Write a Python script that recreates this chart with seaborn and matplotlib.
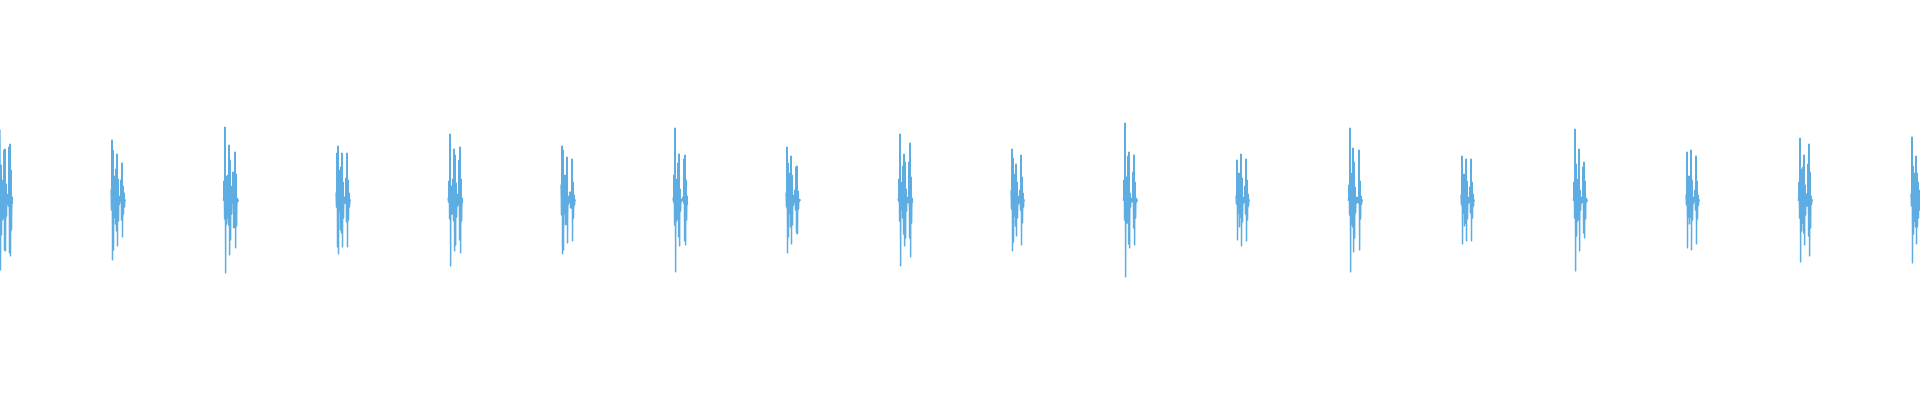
import numpy as np
import pandas as pd
import seaborn as sns
import matplotlib
matplotlib.use("Agg")
import matplotlib.pyplot as plt

# heart sound recording, one burst per beat (amplitude in a.u., envelope per sample pair)
fs = 300  # samples per second
onsets = [0.0, 0.74, 1.487, 2.24, 2.987, 3.74, 4.487, 5.24, 5.987,
          6.74, 7.487, 8.24, 8.987, 9.74, 10.487, 11.24, 11.987, 12.74]

beat_01 = [70, 35, 20, 18, 50, 51, 16, 4, 6, 53, 56, 30, 3]
beat_02 = [10, 60, 50, 17, 24, 31, 46, 21, 4, 1, 20, 37, 14, 7, 0]
beat_03 = [0, 19, 73, 24, 18, 25, 55, 40, 14, 3, 28, 27, 48, 26, 2, 0]
beat_04 = [7, 47, 54, 11, 30, 33, 47, 18, 3, 3, 22, 47, 20, 7, 0]
beat_05 = [2, 19, 66, 14, 14, 21, 51, 45, 17, 6, 4, 40, 53, 21, 2]
beat_06 = [15, 54, 50, 13, 25, 24, 43, 4, 2, 8, 8, 41, 18, 5, 0]
beat_07 = [2, 25, 72, 21, 19, 37, 46, 11, 1, 0, 3, 41, 45, 20, 4]
beat_08 = [7, 53, 37, 13, 27, 44, 25, 5, 2, 10, 33, 34, 9, 1, 0]
beat_09 = [1, 21, 66, 9, 18, 34, 46, 38, 11, 2, 3, 38, 57, 23, 2]
beat_10 = [9, 51, 42, 16, 26, 36, 18, 4, 2, 10, 45, 23, 7, 0]
beat_11 = [0, 20, 77, 23, 23, 44, 48, 7, 2, 1, 28, 45, 18, 2, 0]
beat_12 = [4, 40, 13, 27, 17, 46, 22, 3, 2, 14, 41, 20, 6, 0]
beat_13 = [0, 15, 72, 24, 27, 52, 38, 13, 3, 2, 3, 50, 19, 4, 0]
beat_14 = [5, 44, 13, 26, 23, 41, 19, 3, 2, 13, 41, 18, 6, 0]
beat_15 = [0, 18, 71, 36, 21, 19, 51, 10, 3, 2, 33, 38, 19, 2, 0]
beat_16 = [5, 48, 17, 24, 17, 50, 20, 3, 0, 10, 44, 19, 5, 0]
beat_17 = [0, 18, 62, 31, 23, 33, 45, 15, 6, 6, 36, 56, 28, 4, 0]
beat_18 = [6, 63, 34, 21, 27, 44, 27, 18, 10]

beats = [beat_01, beat_02, beat_03, beat_04, beat_05, beat_06, beat_07, beat_08, beat_09,
         beat_10, beat_11, beat_12, beat_13, beat_14, beat_15, beat_16, beat_17, beat_18]

# build long table: each envelope value gives a positive and a negative sample
rows = []
for k, (t0, env) in enumerate(zip(onsets, beats)):
    for i, a in enumerate(env):
        rows.append((k, t0 + (2 * i) / fs, a))
        rows.append((k, t0 + (2 * i + 1) / fs, -a))
df = pd.DataFrame(rows, columns=["beat", "time", "amplitude"])

sns.set_style("white")
fig = plt.figure(figsize=(19.2, 4), dpi=100)
ax = fig.add_axes([0, 0, 1, 1])
sns.lineplot(data=df, x="time", y="amplitude", units="beat", estimator=None,
             sort=False, color="#5DADE2", linewidth=0.9, ax=ax)
ax.set_xlim(0, 12.8)
ax.set_ylim(-200, 200)
ax.axis("off")

fig.savefig("out.png", dpi=100, facecolor="white")
